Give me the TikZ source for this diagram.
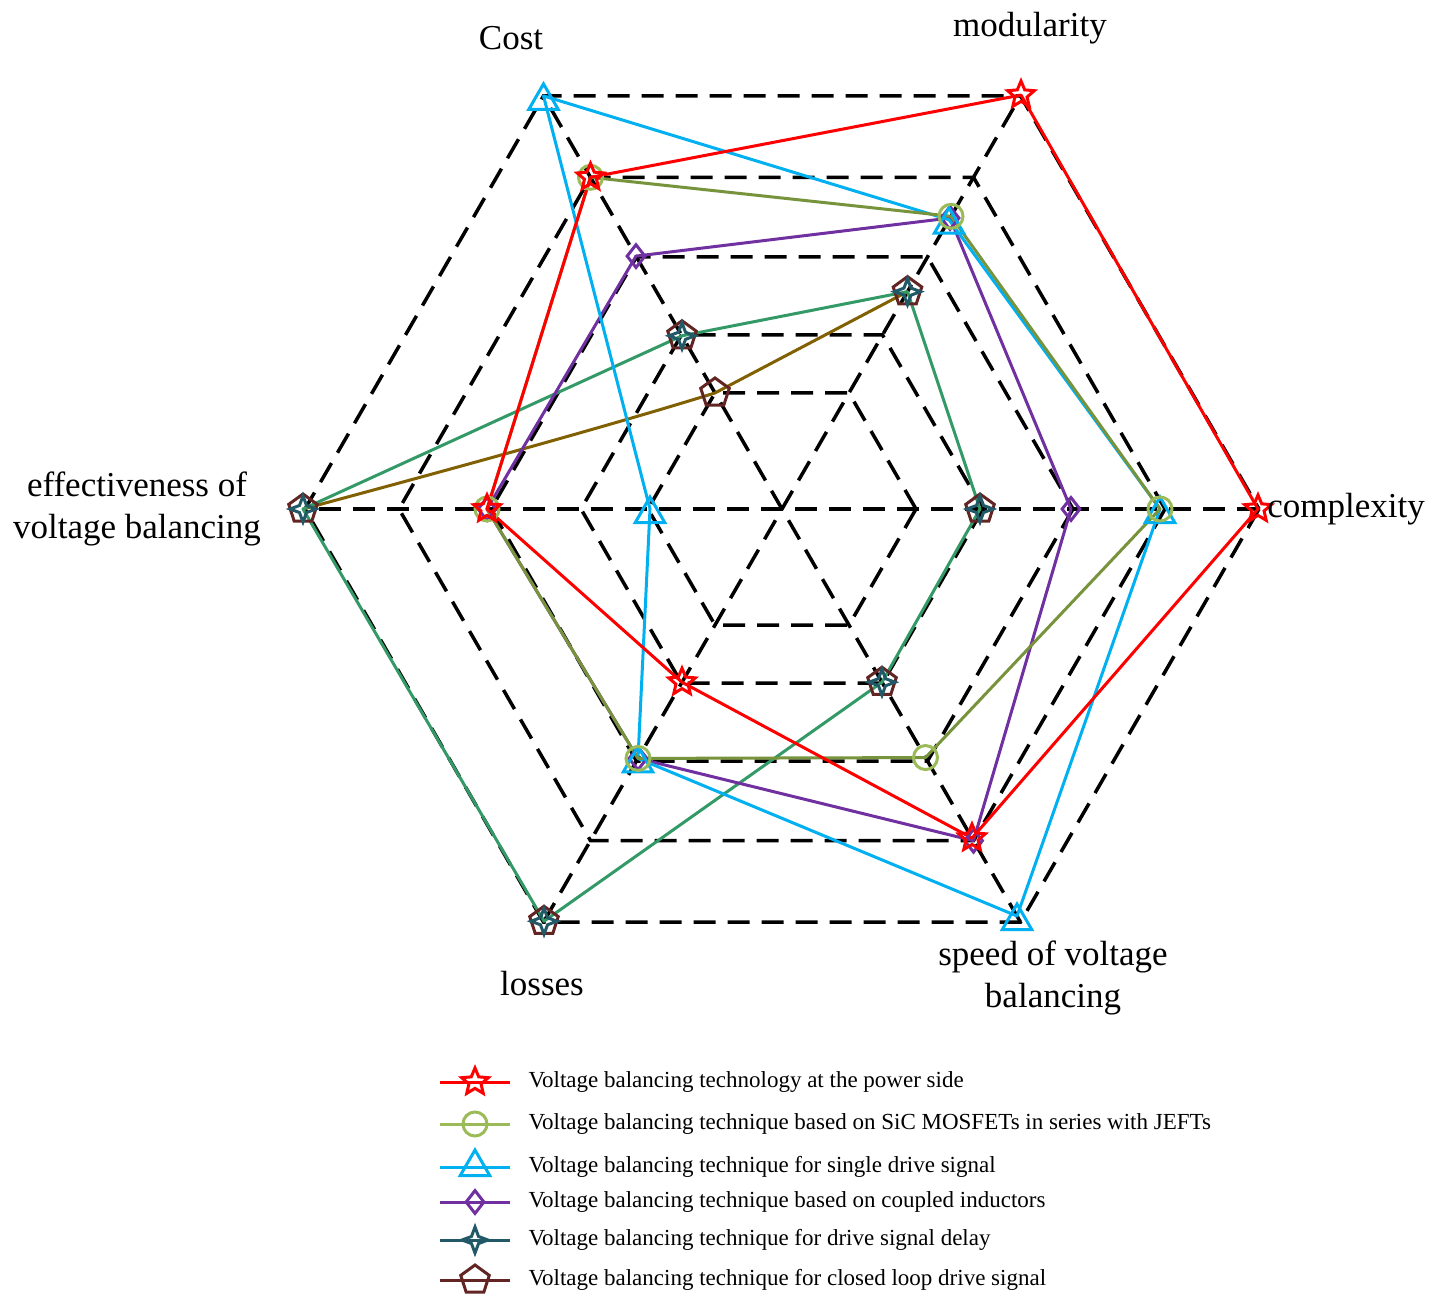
\documentclass[tikz,border=0pt]{standalone}
\usepackage{fontspec}
\setmainfont{Liberation Serif}
\usetikzlibrary{shapes.geometric}
\definecolor{cred}{HTML}{FF0000}
\definecolor{colive}{HTML}{77933C}
\definecolor{colivem}{HTML}{9BBB59}
\definecolor{ccyan}{HTML}{00B0F0}
\definecolor{cpurp}{HTML}{7030A0}
\definecolor{cteal}{HTML}{339966}
\definecolor{ctealm}{HTML}{215968}
\definecolor{cbrown}{HTML}{806000}
\definecolor{cbrownm}{HTML}{632523}
\begin{document}
\begin{tikzpicture}[x=1pt,y=-1pt,
 grid/.style={black,line width=3.5pt,dash pattern=on 22pt off 12pt},
 ser/.style={line width=3pt,line join=round},
 mk/.style={draw,line width=3pt,inner sep=0pt,fill=none},
 mstar/.style={mk,star,star points=5,star point ratio=2.2,minimum size=28pt,draw=cred},
 mcirc/.style={mk,circle,minimum size=24pt,draw=colivem},
 mtri/.style={mk,regular polygon,regular polygon sides=3,minimum size=34pt,draw=ccyan},
 mdia/.style={mk,diamond,minimum width=19pt,minimum height=24pt,draw=cpurp},
 mst4/.style={mk,star,star points=4,star point ratio=2.6,minimum size=26pt,draw=ctealm},
 mpent/.style={mk,regular polygon,regular polygon sides=5,minimum size=30pt,draw=cbrownm},
 lab/.style={font=\fontsize{35}{42}\selectfont,align=center},
 leg/.style={font=\fontsize{23}{27}\selectfont,anchor=west}]
\useasboundingbox (0,0) rectangle (1439,1308);
\begin{scope}[shift={(782,509)}]
\foreach \r in {134,201,291,383,477}
  \draw[grid] (0:\r) -- (60:\r) -- (120:\r) -- (180:\r) -- (240:\r) -- (300:\r) -- cycle;
\foreach \a in {0,60,120} \draw[grid] (\a:477) -- (\a+180:477);
% angles: cost -120, modularity -60, complexity 0, speed 60, losses 120, effectiveness 180
\coordinate (r1) at (-120:383); \coordinate (r2) at (-60:478); \coordinate (r3) at (0:476);
\coordinate (r4) at (60:380); \coordinate (r5) at (120:200); \coordinate (r6) at (180:295);
\coordinate (g1) at (-120:383); \coordinate (g2) at (-60:338); \coordinate (g3) at (0:378);
\coordinate (g4) at (60:287); \coordinate (g5) at (120:288); \coordinate (g6) at (180:295);
\coordinate (c1) at (-120:477); \coordinate (c2) at (-60:334); \coordinate (c3) at (0:378);
\coordinate (c4) at (60:470); \coordinate (c5) at (120:288); \coordinate (c6) at (180:132);
\coordinate (p1) at (-120:292); \coordinate (p2) at (-60:336); \coordinate (p3) at (0:289);
\coordinate (p4) at (60:383); \coordinate (p5) at (120:288); \coordinate (p6) at (180:295);
\coordinate (t1) at (-120:200); \coordinate (t2) at (-60:251); \coordinate (t3) at (0:198);
\coordinate (t4) at (60:200); \coordinate (t5) at (120:476); \coordinate (t6) at (180:479);
\coordinate (b1) at (-120:134);
\end{scope}
\draw[ser,cbrown] (t6) .. controls (560,440) and (660,410) .. (b1) -- (t2);
\draw[ser,cteal] (t1) -- (t2) -- (t3) -- (t4) -- (t5) -- (t6) -- cycle;
\draw[ser,cpurp] (p1) -- (p2) -- (p3) -- (p4) -- (p5) -- (p6) -- cycle;
\draw[ser,ccyan] (c1) -- (c2) -- (c3) -- (c4) -- (c5) -- (c6) -- cycle;
\draw[ser,colive] (g1) -- (g2) -- (g3) -- (g4) -- (g5) -- (g6) -- cycle;
\draw[ser,cred] (r1) -- (r2) -- (r3) -- (r4) -- (r5) -- (r6) -- cycle;
\foreach \i in {1,...,6} {
 \node[mpent] (bm\i) at (t\i) {};
 \node[mst4] (tm\i) at (t\i) {};
 \node[mdia] (pm\i) at (p\i) {};
 \node[mtri] (cm\i) at ([yshift=-5]c\i) {};
 \node[mcirc] (gm\i) at (g\i) {};
 \node[mstar] (rm\i) at (r\i) {};
}
\node[mpent] (bm0) at (b1) {};
\node[lab] (lcost) at (511,38) {Cost};
\node[lab] (lmod) at (1030,28) {modularity};
\node[lab] (lcomp) at (1346,509) {complexity};
\node[lab] (lspeed) at (1053,978) {speed of voltage\\balancing};
\node[lab] (lloss) at (542,984) {losses};
\node[lab] (leff) at (137,509) {effectiveness of\\voltage balancing};
\foreach \y/\st/\col/\t in {
 1082/mstar/cred/{Voltage balancing technology at the power side},
 1124/mcirc/colivem/{Voltage balancing technique based on SiC MOSFETs in series with JEFTs},
 1167/mtri/ccyan/{Voltage balancing technique for single drive signal},
 1202/mdia/cpurp/{Voltage balancing technique based on coupled inductors},
 1240/mst4/ctealm/{Voltage balancing technique for drive signal delay},
 1280/mpent/cbrownm/{Voltage balancing technique for closed loop drive signal}} {
 \coordinate (la\y) at (440,\y); \coordinate (lb\y) at (510,\y);
 \draw[ser,\col] (la\y) -- (lb\y);
 \node[\st] (lm\y) at (475,\y) {};
 \node[leg] (lt\y) at (525,\y) {\t};
}
\end{tikzpicture}
\end{document}
